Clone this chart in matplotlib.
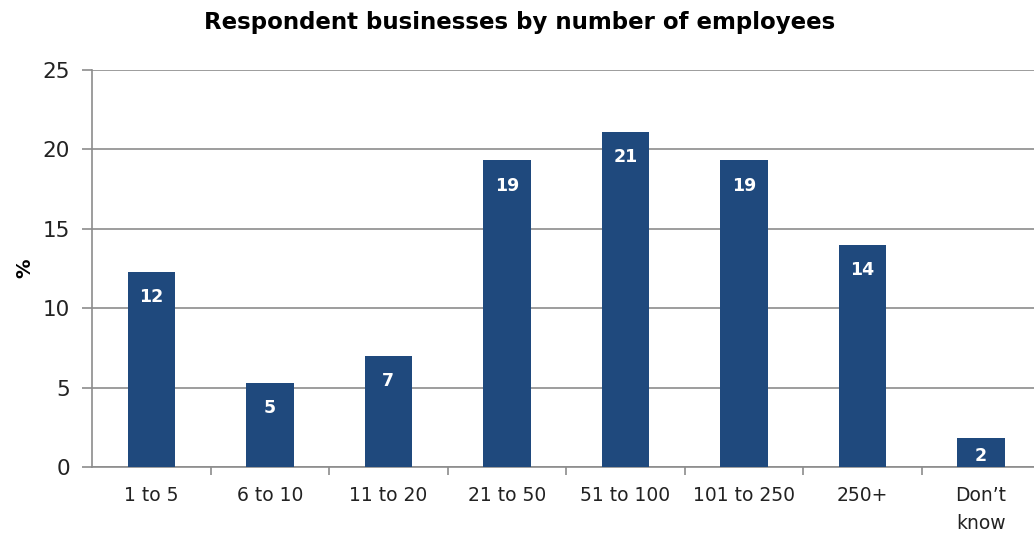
import matplotlib.pyplot as plt
import numpy as np

categories = ["1 to 5", "6 to 10", "11 to 20", "21 to 50", "51 to 100",
              "101 to 250", "250+", "Don\u2019t\nknow"]
shares = [12.3, 5.3, 7.0, 19.3, 21.1, 19.3, 14.0, 1.8]

bar_color = "#1f497d"
grid_color = "#8c8c8c"

plt.rcParams["font.family"] = ["DejaVu Sans"]

fig = plt.figure(figsize=(10.34, 5.34), dpi=100)
ax = fig.add_axes([0.089, 0.1255, 0.917, 0.7435])

x = np.arange(len(categories))
bars = ax.bar(x, shares, width=0.4, color=bar_color, zorder=3)

# value labels sit inside the top of each bar (short bars: near the middle)
for b, v in zip(bars, shares):
    ypos = max(v - 1.6, v * 0.4)
    ax.text(b.get_x() + b.get_width() / 2, ypos, "%.0f" % v,
            ha="center", va="center", color="white", fontsize=12.5, fontweight="bold", zorder=4)

ax.set_xlim(-0.5, len(categories) - 0.5)
ax.set_ylim(0, 25)
ax.set_yticks(range(0, 26, 5))
ax.set_xticks(x)
ax.set_xticklabels(categories, fontsize=13.5, color="#222222", linespacing=1.55)
ax.set_xticks(np.arange(0.5, len(categories) - 0.5, 1), minor=True)
ax.tick_params(axis="x", which="major", length=0, pad=14)
ax.tick_params(axis="x", which="minor", length=6, color=grid_color, width=1.2)
ax.tick_params(axis="y", length=7, color=grid_color, width=1.2, labelsize=15.5, pad=9, labelcolor="#222222")

ax.yaxis.grid(True, color=grid_color, linewidth=1.2, zorder=0)
ax.set_axisbelow(True)
for side in ["top", "right"]:
    ax.spines[side].set_visible(False)
for side in ["left", "bottom"]:
    ax.spines[side].set_color(grid_color)
    ax.spines[side].set_linewidth(1.2)

ax.set_ylabel("%", fontsize=14, fontweight="bold", labelpad=6)
fig.text(0.503, 0.957, "Respondent businesses by number of employees",
         ha="center", va="center", fontsize=16.5, fontweight="bold")

fig.savefig("out.png", dpi=100)
